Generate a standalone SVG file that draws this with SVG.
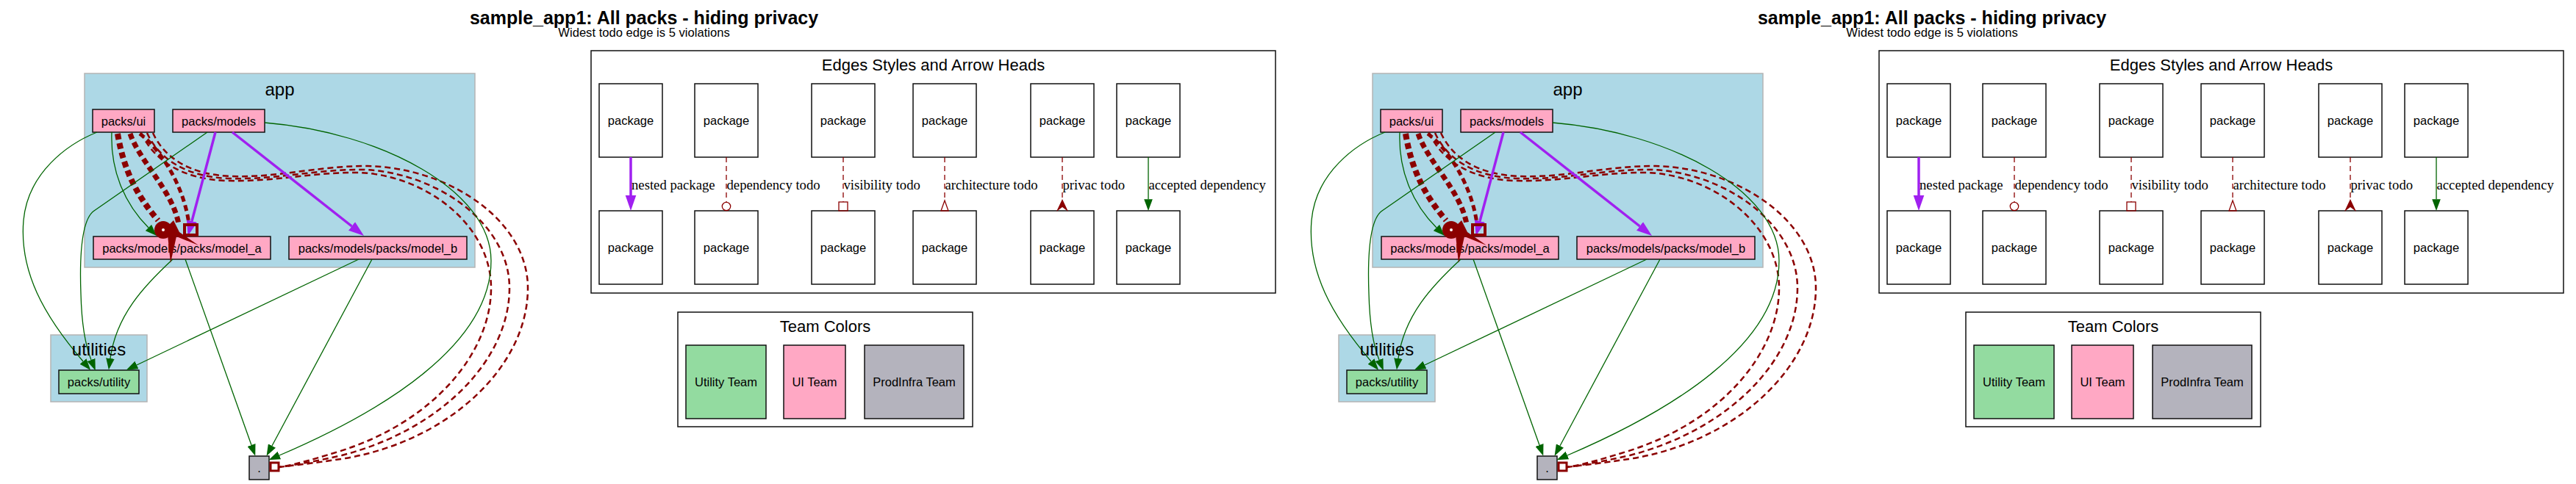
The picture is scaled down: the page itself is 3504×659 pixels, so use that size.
<svg xmlns="http://www.w3.org/2000/svg" width="3504" height="659" viewBox="0 0 3504 659">
<style>
text{font-family:"Liberation Sans",Arial,Helvetica,sans-serif;fill:#000}
.ttl{font-size:25px;font-weight:bold;text-anchor:middle}
.sub{font-size:16.6px;text-anchor:middle}
.cll{font-size:24px;text-anchor:middle}
.lt{font-size:22px;text-anchor:middle}
.lbl{font-size:16.5px;text-anchor:middle}
.el{font-family:"Liberation Serif","Times New Roman",serif;font-size:18.7px}
.nd{stroke:#111;stroke-width:1.5}
.pink{fill:#ffa8c4}
.green{fill:#93dba0}
.grey{fill:#b4b3bd}
.white{fill:#fff}
.cl{fill:#add8e6;stroke:#b4b4b4;stroke-width:1.5}
.box{fill:#fff;stroke:#111;stroke-width:1.5}
.ge{fill:none;stroke:#006400;stroke-width:1.3}
.pe{fill:none;stroke:#a020f0;stroke-width:3.5}
.de{fill:none;stroke:#8b0000;stroke-dasharray:8 5}
.dl{fill:none;stroke:#8b0000;stroke-width:1.3;stroke-dasharray:7 5}
.dr{fill:#8b0000}
.do{fill:none;stroke:#8b0000}
</style>
<defs>
<marker id="ag" markerUnits="userSpaceOnUse" markerWidth="16" markerHeight="12" viewBox="0 -6 16 12" refX="0" refY="0" orient="auto"><path d="M0,-5.8 L15.7,0 L0,5.8 z" fill="#006400"/></marker>
<marker id="ap" markerUnits="userSpaceOnUse" markerWidth="21" markerHeight="16" viewBox="0 -8 21 16" refX="0" refY="0" orient="auto"><path d="M0,-7.3 L21,0 L0,7.3 z" fill="#a020f0"/></marker>
</defs>
<rect width="3504" height="659" fill="#fff"/>

<!-- ===== copy 1 ===== -->
<g id="copy-1">
<g id="title-1"><text x="876" y="33" class="ttl">sample_app1: All packs - hiding privacy</text><text x="876" y="50" class="sub">Widest todo edge is 5 violations</text></g>
<g id="cluster-app-1"><rect class="cl" x="115" y="100" width="531" height="264"/><text x="380.5" y="130" class="cll">app</text></g>
<g id="cluster-utilities-1"><rect class="cl" x="69" y="456" width="131" height="91"/></g>
<g id="node-ui-1"><rect class="nd pink" x="126" y="149" width="84" height="31"/><text x="168" y="170.5" class="lbl">packs/ui</text></g>
<g id="node-models-1"><rect class="nd pink" x="235" y="149" width="125" height="31"/><text x="297.5" y="170.5" class="lbl">packs/models</text></g>
<g id="node-model-a-1"><rect class="nd pink" x="127" y="322" width="241" height="31"/><text x="247.5" y="343.5" class="lbl">packs/models/packs/model_a</text></g>
<g id="node-model-b-1"><rect class="nd pink" x="393" y="322" width="242" height="31"/><text x="514" y="343.5" class="lbl">packs/models/packs/model_b</text></g>
<g id="node-utility-1"><rect class="nd green" x="80" y="504" width="109" height="32"/><text x="134.5" y="526" class="lbl">packs/utility</text></g>
<g id="node-root-1"><rect class="nd grey" x="339" y="621" width="27" height="32"/><text x="352.5" y="643" class="lbl">.</text></g>
<g id="connectors-1">
<path class="de" stroke-width="2.5" d="M208,181 C222,212 255,238 315,240 C380,242 430,226 500,226 C610,228 718,300 718,392 C718,500 610,600 470,624 C425,631 395,634 380,636"/>
<path class="de" stroke-width="2.5" d="M200,181 C215,214 250,241 312,243 C378,245 430,230 495,231 C595,235 693,305 693,392 C693,490 600,585 465,620 C420,630 395,634 380,636"/>
<path class="de" stroke-width="2.5" d="M192,181 C208,216 245,244 308,246 C375,248 425,234 490,235 C585,240 668,310 668,392 C668,480 590,575 460,615 C418,628 395,634 380,636"/>
<path class="de" stroke-width="8" stroke-dasharray="10 6" d="M160,182 C168,230 185,265 215,300"/>
<path class="de" stroke-width="7" stroke-dasharray="10 6" d="M177,182 C190,220 235,260 243,305"/>
<path class="de" stroke-width="5" stroke-dasharray="9 6" d="M190,182 C215,200 250,250 257,305"/>
<path class="ge" marker-end="url(#ag)" d="M132,180 C92,196 38,235 32,300 C26,370 60,430 113,492"/>
<path class="ge" marker-end="url(#ag)" d="M152,180 C150,230 168,276 202,310"/>
<path class="ge" marker-end="url(#ag)" d="M282,180 L128,287 C112,298 108,345 110,400 C111,440 116,470 124,490"/>
<path class="ge" marker-end="url(#ag)" d="M235,353 C195,390 158,430 150,488"/>
<path class="ge" marker-end="url(#ag)" d="M488,353 L186,497"/>
<path class="ge" marker-end="url(#ag)" d="M252,353 L342,606"/>
<path class="ge" marker-end="url(#ag)" d="M506,353 L370,607"/>
<path class="ge" marker-end="url(#ag)" d="M360,167 C520,180 668,260 668,355 C668,470 520,560 380,620"/>
<path class="pe" marker-end="url(#ap)" d="M293,180 L261,301"/>
<path class="pe" marker-end="url(#ap)" d="M316,180 L478.5,308"/>
<circle class="dr" cx="222" cy="313" r="12"/><circle cx="222" cy="313" r="2" fill="#fff"/>
<rect class="do" x="251" y="306" width="17" height="14" stroke-width="4"/>
<polygon class="dr" points="224,312 236,300 244,316 270,334 240,322 232,358 228,320"/>
<rect class="do" x="368" y="630" width="11" height="11" stroke-width="3"/>
</g>
<g id="legend-edges-1">
<rect class="box" x="804" y="69" width="931" height="330"/>
<text x="1269.5" y="96" class="lt">Edges Styles and Arrow Heads</text>
<g id="lg-p1a-1"><rect class="nd white" x="815" y="114" width="86" height="100"/><text x="858" y="170" class="lbl">package</text></g>
<g id="lg-p1b-1"><rect class="nd white" x="815" y="287" width="86" height="100"/><text x="858" y="343" class="lbl">package</text></g>
<g id="lg-p2a-1"><rect class="nd white" x="945" y="114" width="86" height="100"/><text x="988" y="170" class="lbl">package</text></g>
<g id="lg-p2b-1"><rect class="nd white" x="945" y="287" width="86" height="100"/><text x="988" y="343" class="lbl">package</text></g>
<g id="lg-p3a-1"><rect class="nd white" x="1104" y="114" width="86" height="100"/><text x="1147" y="170" class="lbl">package</text></g>
<g id="lg-p3b-1"><rect class="nd white" x="1104" y="287" width="86" height="100"/><text x="1147" y="343" class="lbl">package</text></g>
<g id="lg-p4a-1"><rect class="nd white" x="1242" y="114" width="86" height="100"/><text x="1285" y="170" class="lbl">package</text></g>
<g id="lg-p4b-1"><rect class="nd white" x="1242" y="287" width="86" height="100"/><text x="1285" y="343" class="lbl">package</text></g>
<g id="lg-p5a-1"><rect class="nd white" x="1402" y="114" width="86" height="100"/><text x="1445" y="170" class="lbl">package</text></g>
<g id="lg-p5b-1"><rect class="nd white" x="1402" y="287" width="86" height="100"/><text x="1445" y="343" class="lbl">package</text></g>
<g id="lg-p6a-1"><rect class="nd white" x="1519" y="114" width="86" height="100"/><text x="1562" y="170" class="lbl">package</text></g>
<g id="lg-p6b-1"><rect class="nd white" x="1519" y="287" width="86" height="100"/><text x="1562" y="343" class="lbl">package</text></g>
<g id="lg-edges-1">
<path class="pe" marker-end="url(#ap)" d="M858,214 L858,266"/>
<text x="859" y="258" class="el">nested package</text>
<path class="dl" d="M988,214 L988,275"/><circle class="do" cx="988" cy="281" r="5.7" stroke-width="1.3"/>
<text x="988.5" y="258" class="el">dependency todo</text>
<path class="dl" d="M1147,214 L1147,275"/><rect class="do" x="1141" y="275" width="12" height="12" stroke-width="1.3"/>
<text x="1147.5" y="258" class="el">visibility todo</text>
<path class="dl" d="M1285,214 L1285,273"/><polygon class="do" points="1285,273 1290,287 1280,287" stroke-width="1.3"/>
<text x="1285.5" y="258" class="el">architecture todo</text>
<path class="dl" d="M1445,214 L1445,273"/><polygon class="dr" points="1445,271 1453,288 1445,282 1437,288"/>
<text x="1445.5" y="258" class="el">privac todo</text>
<path class="ge" marker-end="url(#ag)" d="M1562,214 L1562,271.3"/>
<text x="1562.5" y="258" class="el">accepted dependency</text>
</g>
</g>
<g id="legend-teams-1">
<rect class="box" x="922" y="425" width="401" height="156"/>
<text x="1122.5" y="452" class="lt">Team Colors</text>
<g id="team-utility-1"><rect class="nd green" x="933" y="470" width="109" height="100"/><text x="987.5" y="526" class="lbl">Utility Team</text></g>
<g id="team-ui-1"><rect class="nd pink" x="1066" y="470" width="84" height="100"/><text x="1108" y="526" class="lbl">UI Team</text></g>
<g id="team-prodinfra-1"><rect class="nd grey" x="1176" y="470" width="135" height="100"/><text x="1243.5" y="526" class="lbl">ProdInfra Team</text></g>
</g>
<g id="cluster-utilities-label-1"><text x="134.5" y="484" class="cll">utilities</text></g>
</g>

<!-- ===== copy 2 ===== -->
<g id="copy-2" transform="translate(1752 0)">
<g id="title-2"><text x="876" y="33" class="ttl">sample_app1: All packs - hiding privacy</text><text x="876" y="50" class="sub">Widest todo edge is 5 violations</text></g>
<g id="cluster-app-2"><rect class="cl" x="115" y="100" width="531" height="264"/><text x="380.5" y="130" class="cll">app</text></g>
<g id="cluster-utilities-2"><rect class="cl" x="69" y="456" width="131" height="91"/></g>
<g id="node-ui-2"><rect class="nd pink" x="126" y="149" width="84" height="31"/><text x="168" y="170.5" class="lbl">packs/ui</text></g>
<g id="node-models-2"><rect class="nd pink" x="235" y="149" width="125" height="31"/><text x="297.5" y="170.5" class="lbl">packs/models</text></g>
<g id="node-model-a-2"><rect class="nd pink" x="127" y="322" width="241" height="31"/><text x="247.5" y="343.5" class="lbl">packs/models/packs/model_a</text></g>
<g id="node-model-b-2"><rect class="nd pink" x="393" y="322" width="242" height="31"/><text x="514" y="343.5" class="lbl">packs/models/packs/model_b</text></g>
<g id="node-utility-2"><rect class="nd green" x="80" y="504" width="109" height="32"/><text x="134.5" y="526" class="lbl">packs/utility</text></g>
<g id="node-root-2"><rect class="nd grey" x="339" y="621" width="27" height="32"/><text x="352.5" y="643" class="lbl">.</text></g>
<g id="connectors-2">
<path class="de" stroke-width="2.5" d="M208,181 C222,212 255,238 315,240 C380,242 430,226 500,226 C610,228 718,300 718,392 C718,500 610,600 470,624 C425,631 395,634 380,636"/>
<path class="de" stroke-width="2.5" d="M200,181 C215,214 250,241 312,243 C378,245 430,230 495,231 C595,235 693,305 693,392 C693,490 600,585 465,620 C420,630 395,634 380,636"/>
<path class="de" stroke-width="2.5" d="M192,181 C208,216 245,244 308,246 C375,248 425,234 490,235 C585,240 668,310 668,392 C668,480 590,575 460,615 C418,628 395,634 380,636"/>
<path class="de" stroke-width="8" stroke-dasharray="10 6" d="M160,182 C168,230 185,265 215,300"/>
<path class="de" stroke-width="7" stroke-dasharray="10 6" d="M177,182 C190,220 235,260 243,305"/>
<path class="de" stroke-width="5" stroke-dasharray="9 6" d="M190,182 C215,200 250,250 257,305"/>
<path class="ge" marker-end="url(#ag)" d="M132,180 C92,196 38,235 32,300 C26,370 60,430 113,492"/>
<path class="ge" marker-end="url(#ag)" d="M152,180 C150,230 168,276 202,310"/>
<path class="ge" marker-end="url(#ag)" d="M282,180 L128,287 C112,298 108,345 110,400 C111,440 116,470 124,490"/>
<path class="ge" marker-end="url(#ag)" d="M235,353 C195,390 158,430 150,488"/>
<path class="ge" marker-end="url(#ag)" d="M488,353 L186,497"/>
<path class="ge" marker-end="url(#ag)" d="M252,353 L342,606"/>
<path class="ge" marker-end="url(#ag)" d="M506,353 L370,607"/>
<path class="ge" marker-end="url(#ag)" d="M360,167 C520,180 668,260 668,355 C668,470 520,560 380,620"/>
<path class="pe" marker-end="url(#ap)" d="M293,180 L261,301"/>
<path class="pe" marker-end="url(#ap)" d="M316,180 L478.5,308"/>
<circle class="dr" cx="222" cy="313" r="12"/><circle cx="222" cy="313" r="2" fill="#fff"/>
<rect class="do" x="251" y="306" width="17" height="14" stroke-width="4"/>
<polygon class="dr" points="224,312 236,300 244,316 270,334 240,322 232,358 228,320"/>
<rect class="do" x="368" y="630" width="11" height="11" stroke-width="3"/>
</g>
<g id="legend-edges-2">
<rect class="box" x="804" y="69" width="931" height="330"/>
<text x="1269.5" y="96" class="lt">Edges Styles and Arrow Heads</text>
<g id="lg-p1a-2"><rect class="nd white" x="815" y="114" width="86" height="100"/><text x="858" y="170" class="lbl">package</text></g>
<g id="lg-p1b-2"><rect class="nd white" x="815" y="287" width="86" height="100"/><text x="858" y="343" class="lbl">package</text></g>
<g id="lg-p2a-2"><rect class="nd white" x="945" y="114" width="86" height="100"/><text x="988" y="170" class="lbl">package</text></g>
<g id="lg-p2b-2"><rect class="nd white" x="945" y="287" width="86" height="100"/><text x="988" y="343" class="lbl">package</text></g>
<g id="lg-p3a-2"><rect class="nd white" x="1104" y="114" width="86" height="100"/><text x="1147" y="170" class="lbl">package</text></g>
<g id="lg-p3b-2"><rect class="nd white" x="1104" y="287" width="86" height="100"/><text x="1147" y="343" class="lbl">package</text></g>
<g id="lg-p4a-2"><rect class="nd white" x="1242" y="114" width="86" height="100"/><text x="1285" y="170" class="lbl">package</text></g>
<g id="lg-p4b-2"><rect class="nd white" x="1242" y="287" width="86" height="100"/><text x="1285" y="343" class="lbl">package</text></g>
<g id="lg-p5a-2"><rect class="nd white" x="1402" y="114" width="86" height="100"/><text x="1445" y="170" class="lbl">package</text></g>
<g id="lg-p5b-2"><rect class="nd white" x="1402" y="287" width="86" height="100"/><text x="1445" y="343" class="lbl">package</text></g>
<g id="lg-p6a-2"><rect class="nd white" x="1519" y="114" width="86" height="100"/><text x="1562" y="170" class="lbl">package</text></g>
<g id="lg-p6b-2"><rect class="nd white" x="1519" y="287" width="86" height="100"/><text x="1562" y="343" class="lbl">package</text></g>
<g id="lg-edges-2">
<path class="pe" marker-end="url(#ap)" d="M858,214 L858,266"/>
<text x="859" y="258" class="el">nested package</text>
<path class="dl" d="M988,214 L988,275"/><circle class="do" cx="988" cy="281" r="5.7" stroke-width="1.3"/>
<text x="988.5" y="258" class="el">dependency todo</text>
<path class="dl" d="M1147,214 L1147,275"/><rect class="do" x="1141" y="275" width="12" height="12" stroke-width="1.3"/>
<text x="1147.5" y="258" class="el">visibility todo</text>
<path class="dl" d="M1285,214 L1285,273"/><polygon class="do" points="1285,273 1290,287 1280,287" stroke-width="1.3"/>
<text x="1285.5" y="258" class="el">architecture todo</text>
<path class="dl" d="M1445,214 L1445,273"/><polygon class="dr" points="1445,271 1453,288 1445,282 1437,288"/>
<text x="1445.5" y="258" class="el">privac todo</text>
<path class="ge" marker-end="url(#ag)" d="M1562,214 L1562,271.3"/>
<text x="1562.5" y="258" class="el">accepted dependency</text>
</g>
</g>
<g id="legend-teams-2">
<rect class="box" x="922" y="425" width="401" height="156"/>
<text x="1122.5" y="452" class="lt">Team Colors</text>
<g id="team-utility-2"><rect class="nd green" x="933" y="470" width="109" height="100"/><text x="987.5" y="526" class="lbl">Utility Team</text></g>
<g id="team-ui-2"><rect class="nd pink" x="1066" y="470" width="84" height="100"/><text x="1108" y="526" class="lbl">UI Team</text></g>
<g id="team-prodinfra-2"><rect class="nd grey" x="1176" y="470" width="135" height="100"/><text x="1243.5" y="526" class="lbl">ProdInfra Team</text></g>
</g>
<g id="cluster-utilities-label-2"><text x="134.5" y="484" class="cll">utilities</text></g>
</g>
</svg>
